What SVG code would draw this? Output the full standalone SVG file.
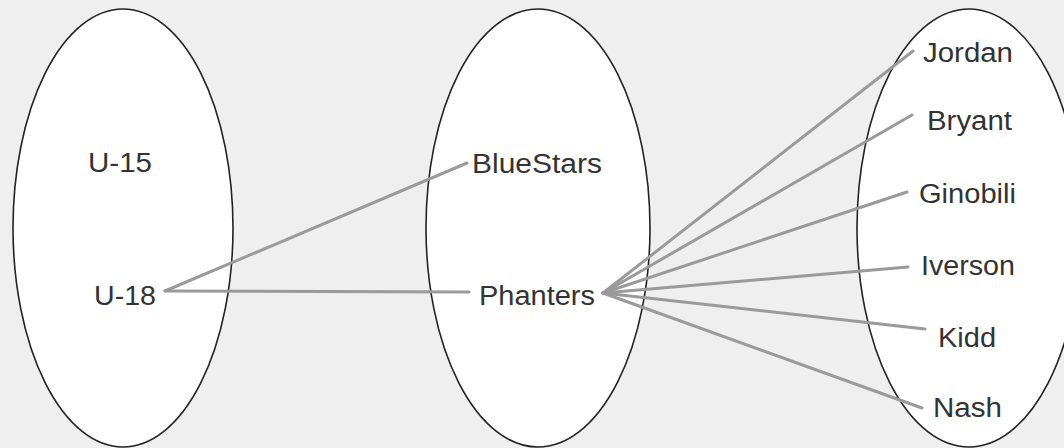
<svg xmlns="http://www.w3.org/2000/svg" width="1064" height="448" viewBox="0 0 1064 448">
<style>
.set{fill:#ffffff;stroke:#222;stroke-width:1.6}
.lbl{font-family:"Liberation Sans",Arial,sans-serif;font-size:27px;fill:#333}
.con{stroke:#9a9a9a;stroke-width:3;fill:none;stroke-linecap:round}
</style>
<rect x="0" y="0" width="1064" height="448" fill="#efefef"/>
<g id="set-ages"><ellipse class="set" cx="123" cy="228" rx="110" ry="219"/></g>
<g id="set-teams"><ellipse class="set" cx="538" cy="228" rx="112" ry="219"/></g>
<g id="set-players"><ellipse class="set" cx="969" cy="228" rx="112" ry="219"/></g>
<g id="connectors">
<line class="con" x1="165" y1="291" x2="467" y2="163"/>
<line class="con" x1="165" y1="291" x2="469" y2="292"/>
<line class="con" x1="603" y1="293" x2="913" y2="51"/>
<line class="con" x1="603" y1="293" x2="912" y2="115"/>
<line class="con" x1="603" y1="293" x2="907" y2="192"/>
<line class="con" x1="603" y1="293" x2="908" y2="267"/>
<line class="con" x1="603" y1="293" x2="925" y2="329"/>
<line class="con" x1="603" y1="293" x2="922" y2="408"/>
</g>
<g id="n-u15"><text class="lbl" x="88" y="172" textLength="64" lengthAdjust="spacingAndGlyphs">U-15</text></g>
<g id="n-u18"><text class="lbl" x="94" y="305" textLength="62" lengthAdjust="spacingAndGlyphs">U-18</text></g>
<g id="n-bluestars"><text class="lbl" x="472" y="173" textLength="130" lengthAdjust="spacingAndGlyphs">BlueStars</text></g>
<g id="n-phanters"><text class="lbl" x="479" y="305" textLength="116" lengthAdjust="spacingAndGlyphs">Phanters</text></g>
<g id="n-jordan"><text class="lbl" x="923" y="62" textLength="90" lengthAdjust="spacingAndGlyphs">Jordan</text></g>
<g id="n-bryant"><text class="lbl" x="927" y="130" textLength="85" lengthAdjust="spacingAndGlyphs">Bryant</text></g>
<g id="n-ginobili"><text class="lbl" x="919" y="203" textLength="97" lengthAdjust="spacingAndGlyphs">Ginobili</text></g>
<g id="n-iverson"><text class="lbl" x="921" y="275" textLength="94" lengthAdjust="spacingAndGlyphs">Iverson</text></g>
<g id="n-kidd"><text class="lbl" x="938" y="347" textLength="58" lengthAdjust="spacingAndGlyphs">Kidd</text></g>
<g id="n-nash"><text class="lbl" x="933" y="417" textLength="69" lengthAdjust="spacingAndGlyphs">Nash</text></g>
</svg>
